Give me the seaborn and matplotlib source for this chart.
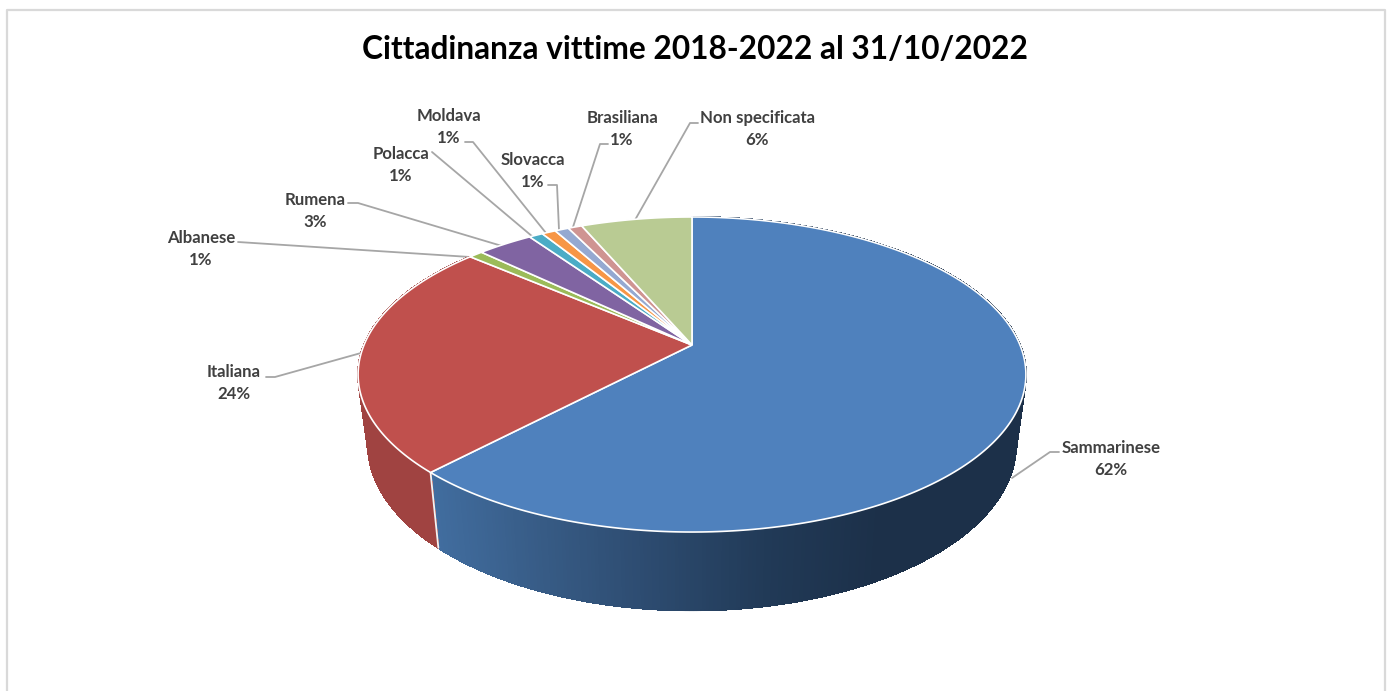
import numpy as np
import seaborn as sns
import matplotlib.pyplot as plt
from matplotlib.collections import PolyCollection, LineCollection
from matplotlib.patches import Polygon

# counts per nationality, read back from the slice sizes
categories = ['Sammarinese', 'Italiana', 'Albanese', 'Rumena', 'Polacca',
              'Moldava', 'Slovacca', 'Brasiliana', 'Non specificata']
counts = [77, 30, 1, 4, 1, 1, 1, 1, 8]

top_colors = ['#4f81bd', '#c0504d', '#9bbb59', '#8064a2', '#4bacc6',
              '#f79646', '#95a9d1', '#cf9492', '#b9cb93']

# label centres and leader lines, in pixels of the picture
label_pos = [(1111, 448), (234, 372), (201, 238), (315, 200), (401, 154),
             (449, 116), (533, 160), (622, 118), (757, 118)]
leaders = [[(1012, 478), (1050, 452), (1059, 452)],
           [(266, 377), (275, 377), (361, 353)],
           [(238, 242), (470, 257)],
           [(348, 203), (358, 203), (502, 246)],
           [(432, 152), (533, 237)],
           [(465, 142), (473, 142), (546, 233)],
           [(548, 185), (557, 185), (559, 230)],
           [(608, 144), (600, 144), (573, 227)],
           [(698, 123), (690, 123), (635, 220)]]

# perspective of the disc
cx, cy = 692, 345
A, a, c = 328, 152, 0.1873


def rim(theta):
    u, v = np.sin(theta), np.cos(theta)
    return cx + A * u / (1 + c * v), cy - a * v / (1 + c * v)


def rim_low(theta):
    x, y = rim(theta)
    return cx + 0.97 * (x - cx), 414 + 1.05 * (y - cy)


sns.set_theme(style='white')
plt.rcParams['font.family'] = ['Lato', 'DejaVu Sans']

fig = plt.figure(figsize=(13.94, 6.91), dpi=100)
ax = fig.add_axes([0, 0, 1, 1])
ax.set_xlim(0, 1394)
ax.set_ylim(691, 0)
ax.axis('off')

# frame, open at the bottom
ax.plot([6.5, 6.5, 1384.5, 1384.5], [691, 9.5, 9.5, 691], color='#d9d9d9', lw=1.6)

shares = np.array(counts) / sum(counts)
edges = np.concatenate([[0], np.cumsum(shares)]) * 2 * np.pi

# side wall, one thin quad per step so the shading can run along it
blue_ramp = sns.blend_palette(['#416d9f', '#375b85', '#2c4a6e', '#213a57', '#1c3049'], 256)
for i in [0, 1]:
    th = np.linspace(edges[i], edges[i + 1], 400)
    x1, y1 = rim(th)
    x2, y2 = rim_low(th)
    quads, cols, low = [], [], []
    for j in range(len(th) - 1):
        quads.append([(x1[j], y1[j]), (x1[j + 1], y1[j + 1]),
                      (x2[j + 1], y2[j + 1]), (x2[j], y2[j])])
        low.append([(x2[j], y2[j]), (x2[j + 1], y2[j + 1])])
        if i == 0:
            t = np.clip((x1[j] - 430) / 450, 0, 1)
            cols.append(blue_ramp[int(t * 255)])
        else:
            cols.append('#a04341')
    ax.add_collection(PolyCollection(quads, facecolors=cols, edgecolors=cols, linewidths=0.8,
                                     antialiaseds=False, zorder=2))
    ax.add_collection(LineCollection(low, colors=cols, linewidths=1.0, zorder=2))

# white seam where the two visible walls meet
xa, ya = rim(edges[1])
xb, yb = rim_low(edges[1])
ax.plot([xa, xb], [ya, yb], color='#f2f2f2', lw=1.3, zorder=3)

# top of the pie
for i, col in enumerate(top_colors):
    th = np.linspace(edges[i], edges[i + 1], 300)
    x, y = rim(th)
    pts = np.column_stack([np.r_[cx, x], np.r_[cy, y]])
    ax.add_patch(Polygon(pts, closed=True, facecolor=col, edgecolor='white', lw=1.2, zorder=4))

for pts in leaders:
    xs, ys = zip(*pts)
    ax.plot(xs, ys, color='#a6a6a6', lw=1.3, zorder=1, solid_joinstyle='round')

for name, share, (lx, ly) in zip(categories, shares, label_pos):
    ax.text(lx, ly, name, ha='center', va='center', fontsize=12.1, fontweight='bold', color='#404040')
    ax.text(lx, ly + 22, f'{share * 100:.0f}%', ha='center', va='center', fontsize=12.1,
            fontweight='bold', color='#404040')

ax.text(695, 49, 'Cittadinanza vittime 2018-2022 al 31/10/2022', ha='center', va='center',
        fontsize=22.8, fontweight='bold', color='black')

fig.savefig('out.png', dpi=100)
